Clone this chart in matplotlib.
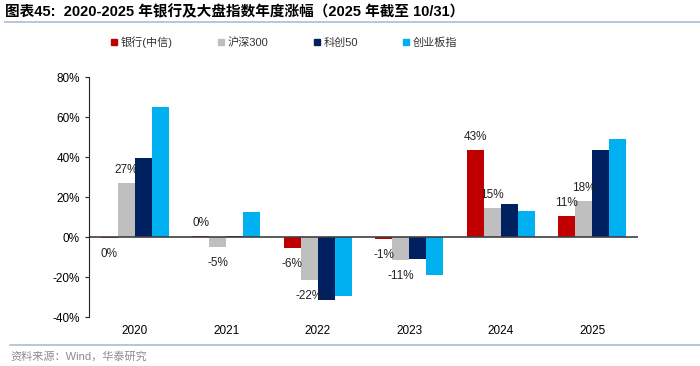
import numpy as np
import matplotlib.pyplot as plt
from matplotlib.lines import Line2D

plt.rcParams['font.family'] = ['Liberation Sans', 'Noto Sans CJK SC', 'DejaVu Sans']

years = ['2020', '2021', '2022', '2023', '2024', '2025']
series_names = ['银行(中信)', '沪深300', '科创50', '创业板指']
bank = [-0.5, 0.5, -5.7, -1.0, 43.5, 10.5]
hs300 = [27.2, -5.2, -21.6, -11.4, 14.7, 18.2]
kc50 = [39.4, 0.5, -31.4, -10.9, 16.4, 43.5]
cyb = [65.0, 12.3, -29.4, -19.0, 13.2, 49.0]
bank_labels = ['0%', '0%', '-6%', '-1%', '43%', '11%']
hs300_labels = ['27%', '-5%', '-22%', '-11%', '15%', '18%']

colors = ['#C00000', '#BFBFBF', '#002060', '#00B0F0']

fig = plt.figure(figsize=(7, 3.66), dpi=100)
ax = fig.add_axes([89/700, 1-317/366, 549/700, 240/366])

x = np.arange(len(years))
w = 0.186
data = [bank, hs300, kc50, cyb]
for i, vals in enumerate(data):
    ax.bar(x + (i - 1.5) * w, vals, w, color=colors[i], label=series_names[i])

# data labels for bank and hs300
for i, (vals, labs) in enumerate([(bank, bank_labels), (hs300, hs300_labels)]):
    for xi, v, t in zip(x, vals, labs):
        off = 9 if v >= 0 else -11.5
        ax.annotate(t, (xi + (i - 1.5) * w, v), xytext=(0, off),
                    textcoords='offset points', ha='center', va='center',
                    fontsize=8.5, color='#222222')

ax.axhline(0, color='#404040', lw=1.2)
ax.set_xlim(-0.5, 5.5)
ax.set_ylim(-40, 80)
ax.set_yticks(np.arange(-40, 81, 20))
ax.set_yticklabels([f'{v}%' for v in range(-40, 81, 20)])
ax.set_xticks(x)
ax.set_xticklabels(years)
ax.tick_params(axis='x', length=0, pad=6, labelsize=8.5)
ax.tick_params(axis='y', length=3, labelsize=8.5, direction='out', color='#222222')
for s in ['top', 'right', 'bottom']:
    ax.spines[s].set_visible(False)
ax.spines['left'].set_color('#222222')

handles = [Line2D([], [], marker='s', ls='', color=c, markersize=4.5) for c in colors]
fig.legend(handles, series_names, loc='center', bbox_to_anchor=(283/700, 1-42/366),
           ncol=4, frameon=False, fontsize=8, handletextpad=0.1, columnspacing=3.85,
           handlelength=1.0, labelcolor='#333333')

fig.text(5/700, 1-12/366, '图表45:  2020-2025 年银行及大盘指数年度涨幅（2025 年截至 10/31）',
         fontsize=10.5, fontweight='bold', va='center', ha='left')
fig.add_artist(Line2D([5/700, 1], [1-22/366, 1-22/366], color='#A9BCD6', lw=1.2))
fig.add_artist(Line2D([10/700, 1], [1-345/366, 1-345/366], color='#A9BCD6', lw=1.2))
fig.text(10/700, 1-356/366, '资料来源：Wind，华泰研究', fontsize=8, color='#8C8C8C',
         va='center', ha='left')

fig.savefig('out.png', dpi=100)
